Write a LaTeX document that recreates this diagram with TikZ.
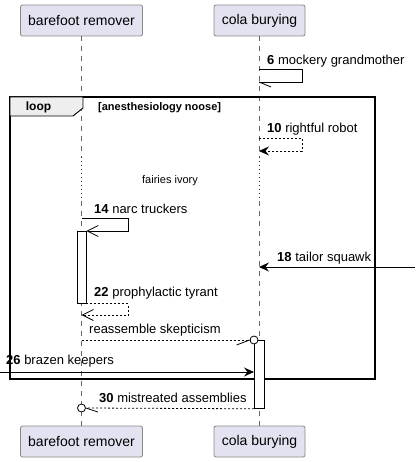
\documentclass[tikz,border=0pt]{standalone}
\usepackage{fontspec}
\setmainfont{Liberation Sans}
\usetikzlibrary{arrows.meta}
\definecolor{partfill}{HTML}{E2E2F0}
\definecolor{partdraw}{HTML}{888888}
\definecolor{lifeline}{HTML}{666666}
\definecolor{delaydot}{HTML}{7A0040}
\definecolor{tabfill}{HTML}{EEEEEE}
\begin{document}
\begin{tikzpicture}[x=1pt,y=-1pt,
  part/.style={draw=partdraw, fill=partfill, rounded corners=2pt, minimum height=31pt, inner sep=0pt, font=\fontsize{14}{16}\selectfont, line width=0.8pt},
  life/.style={draw=lifeline, dash pattern=on 5pt off 5pt, line width=0.6pt},
  delay/.style={draw=delaydot, dash pattern=on 0.8pt off 3.2pt, line width=0.8pt},
  msg/.style={draw=black, line width=0.8pt},
  ret/.style={msg, dash pattern=on 2pt off 2pt},
  lbl/.style={anchor=west, inner sep=0pt, font=\fontsize{13}{15}\selectfont},
  small/.style={inner sep=0pt, font=\fontsize{11}{13}\selectfont},
  act/.style={draw=black, fill=white, line width=0.8pt},
  full/.style={-{Stealth[length=10pt,width=9pt,inset=3.5pt]}},
  open/.style={-{Straight Barb[length=11pt,width=11pt]}},
  endcirc/.style={circle, draw=black, fill=white, line width=0.8pt, minimum size=8pt, inner sep=0pt},
]
\useasboundingbox (0,0) rectangle (415,462);
% participants
\node[part, minimum width=122pt] (pa) at (81.5,20.5) {barefoot remover};
\node[part, minimum width=91pt] (pb) at (259.5,20.5) {cola burying};
\node[part, minimum width=122pt] (pa2) at (81.5,441.5) {barefoot remover};
\node[part, minimum width=91pt] (pb2) at (259.5,441.5) {cola burying};
% lifelines
\coordinate (a0) at (81.5,36);
\coordinate (la1) at (81.5,157);
\coordinate (la2) at (81.5,201);
\coordinate (a9) at (81.5,426);
\coordinate (b0) at (259,36);
\coordinate (lb1) at (259,157);
\coordinate (lb2) at (259,201);
\coordinate (b9) at (259,426);
\draw[life] (a0) -- (la1);
\draw[delay] (la1) -- (la2);
\draw[life] (la2) -- (a9);
\draw[life] (b0) -- (lb1);
\draw[delay] (lb1) -- (lb2);
\draw[life] (lb2) -- (b9);
% loop frame
\draw[line width=1.6pt] (10,97) rectangle (375,379);
\draw[fill=tabfill, line width=0.9pt] (10,97) -- (83,97) -- (83,108) -- (73,116) -- (10,116) -- cycle;
\node[small, font=\fontsize{12}{14}\selectfont\bfseries] (looplbl) at (38.5,107) {loop};
\node[small, anchor=west, font=\fontsize{11}{13}\selectfont\bfseries] (guard) at (98,107.5) {[anesthesiology noose]};
% message 6
\coordinate (m6a) at (259,69);
\coordinate (m6b) at (259,82);
\node[lbl] (t6) at (267,61) {\textbf{6} mockery grandmother};
\draw[msg] (m6a) -- ++(43,0) |- (m6b);
\draw[msg] (m6b) -- ++(12,5);
% message 10
\coordinate (m10a) at (259,138);
\coordinate (m10b) at (259,151);
\node[lbl] (t10) at (267,129) {\textbf{10} rightful robot};
\draw[ret, full] (m10a) -- ++(43,0) |- (m10b);
% delay
\node[small] (delaytxt) at (170,181) {fairies ivory};
% activation on A
\node[act, minimum width=9pt, minimum height=72pt, inner sep=0pt, anchor=north] (actA) at (81.5,231) {};
% message 14
\coordinate (m14a) at (81.5,218);
\node[lbl] (t14) at (94,209) {\textbf{14} narc truckers};
\draw[msg, open] (m14a) -- ++(46.5,0) |- (actA.north east);
% message 18
\coordinate (m18a) at (415,267);
\coordinate (m18b) at (259,267);
\node[lbl] (t18) at (277,258) {\textbf{18} tailor squawk};
\draw[msg, full] (m18a) -- (m18b);
% message 22
\coordinate (m22b) at (81.5,315);
\node[lbl] (t22) at (94,293) {\textbf{22} prophylactic tyrant};
\draw[ret, open] (actA.south east) -- ++(42,0) |- (m22b);
% activation on B
\node[act, minimum width=10pt, minimum height=68pt, inner sep=0pt, anchor=north west] (actB) at (254,340) {};
% reassemble skepticism
\coordinate (mra) at (81.5,340);
\node[endcirc] (c1) at (254,340) {};
\node[lbl] (tr) at (89,330) {reassemble skepticism};
\draw[ret] (mra) -- (c1.west);
\draw[msg] (c1.west) -- ++(-13,5);
% message 26
\coordinate (m26a) at (0,372);
\node[lbl] (t26) at (6,361) {\textbf{26} brazen keepers};
\draw[msg, full] (m26a) -- (actB.west |- m26a);
% message 30
\node[endcirc] (c2) at (81.5,408) {};
\node[lbl] (t30) at (99,398) {\textbf{30} mistreated assemblies};
\draw[ret] (actB.south west) -- (c2.east);
\draw[msg] (c2.east) -- ++(12,4);
\end{tikzpicture}
\end{document}
